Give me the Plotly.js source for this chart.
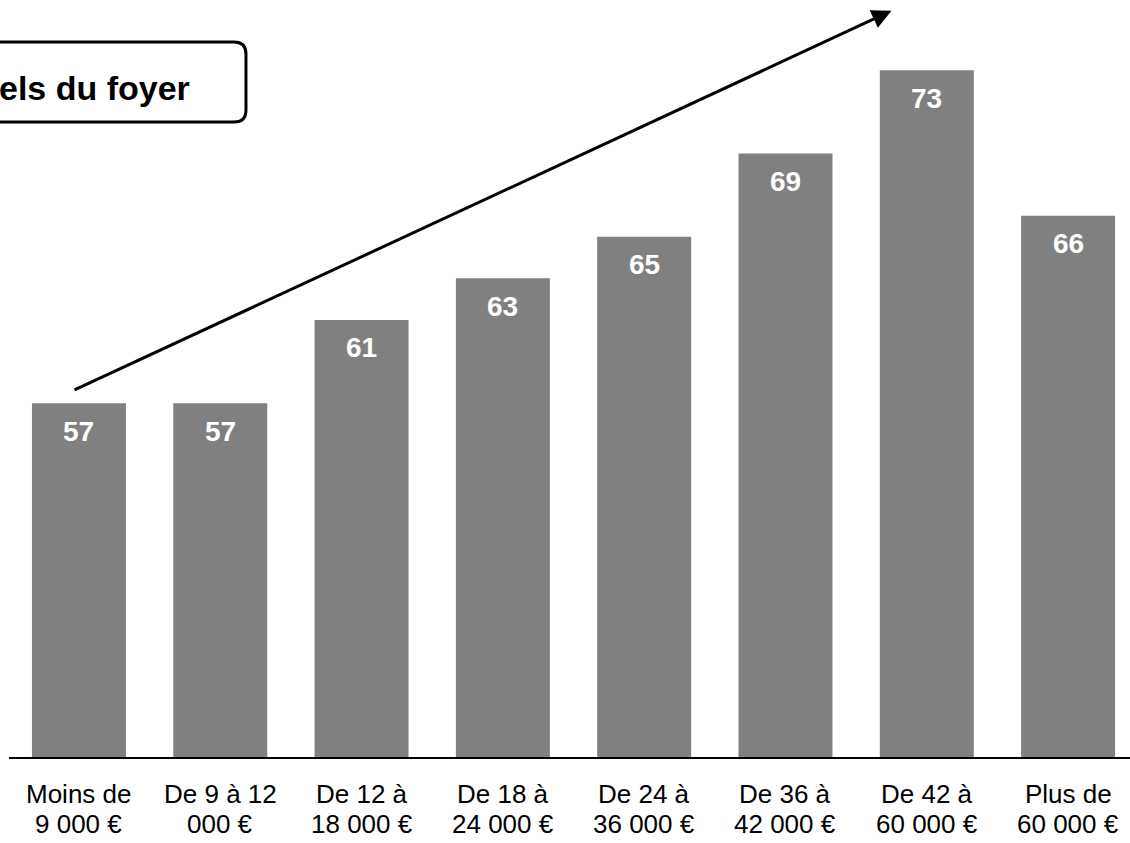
<!DOCTYPE html>
<html>
<head>
<meta charset="utf-8">
<script src="https://cdn.plot.ly/plotly-3.0.1.min.js"></script>
<style>html,body{margin:0;padding:0;background:#fff;}#chart{width:1130px;height:843px;}</style>
</head>
<body>
<div id="chart"></div>
<script>
const categories = [
  "Moins de<br>9 000 €",
  "De 9 à 12<br>000 €",
  "De 12 à<br>18 000 €",
  "De 18 à<br>24 000 €",
  "De 24 à<br>36 000 €",
  "De 36 à<br>42 000 €",
  "De 42 à<br>60 000 €",
  "Plus de<br>60 000 €"
];
const values = [57, 57, 61, 63, 65, 69, 73, 66];
const boxTitle = "els du foyer";

const FONT = "Liberation Sans, Arial, sans-serif";

const trace = {
  type: "bar",
  x: categories,
  y: values,
  marker: { color: "#808080" },
  hoverinfo: "skip"
};

const valueAnnotations = categories.map((c, i) => ({
  x: c, y: values[i], xref: "x", yref: "y",
  text: String(values[i]),
  showarrow: false,
  yshift: -28,
  font: { family: FONT, size: 28, color: "#ffffff", weight: "bold" }
}));

// category labels drawn as two tight lines under the axis
const labelAnnotations = [];
categories.forEach(c => {
  c.split("<br>").forEach((line, k) => {
    labelAnnotations.push({
      x: c, xref: "x", y: 0, yref: "paper",
      yanchor: "middle", yshift: k === 0 ? -37 : -67,
      text: line, showarrow: false,
      font: { family: FONT, size: 26, color: "#000000" }
    });
  });
});

const layout = {
  width: 1130, height: 843,
  margin: { l: 9, r: 0, t: 0, b: 86 },
  paper_bgcolor: "#ffffff",
  plot_bgcolor: "#ffffff",
  showlegend: false,
  bargap: 0.335,
  xaxis: {
    type: "category",
    range: [-0.495, 7.438],
    showline: true, linecolor: "#000000", linewidth: 1.5,
    ticks: "", showgrid: false, zeroline: false,
    showticklabels: false,
    fixedrange: true
  },
  yaxis: {
    range: [40, 76.37],
    visible: false, showgrid: false, zeroline: false,
    fixedrange: true
  },
  shapes: [
    {
      type: "path", xref: "paper", yref: "paper",
      path: "M -0.2,0.9445 L 0.2007,0.9445 Q 0.2114,0.9445 0.2114,0.9287 L 0.2114,0.8547 Q 0.2114,0.8388 0.2007,0.8388 L -0.2,0.8388 Z",
      line: { color: "#000000", width: 3 },
      fillcolor: "#ffffff",
      layer: "above"
    }
  ],
  annotations: valueAnnotations.concat(labelAnnotations, [
    {
      xref: "paper", yref: "paper", x: 0.1632, y: 0.8838,
      xanchor: "right", yanchor: "middle",
      text: boxTitle, showarrow: false,
      font: { family: FONT, size: 34, color: "#000000", weight: "bold" }
    },
    {
      xref: "x", yref: "y", axref: "x", ayref: "y",
      x: 5.75, y: 75.85, ax: -0.042, ay: 57.6,
      text: "", showarrow: true,
      arrowhead: 2, arrowsize: 1.3, arrowwidth: 3, arrowcolor: "#000000"
    }
  ])
};

Plotly.newPlot("chart", [trace], layout, { displayModeBar: false, staticPlot: true });
</script>
</body>
</html>
